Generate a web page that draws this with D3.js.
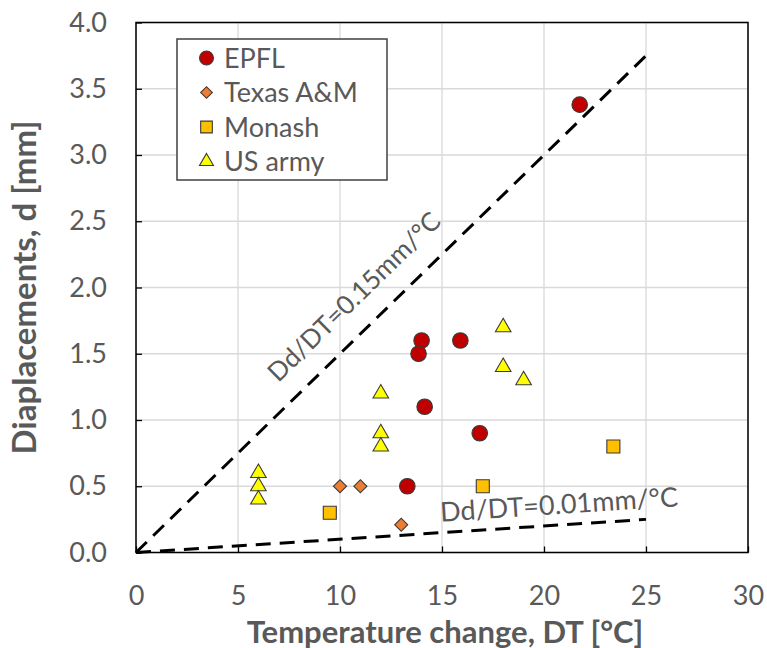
<!DOCTYPE html>
<html>
<head>
<meta charset="utf-8">
<script src="https://cdn.jsdelivr.net/npm/d3@7"></script>
<style>
  body { margin: 0; background: #fff; }
  text { font-family: Lato, "Open Sans", sans-serif; fill: #595959; }
</style>
</head>
<body>
<div id="chart"></div>
<script>
// series data: [DT in °C, displacement in mm]
const epfl = [[21.75, 3.38], [14.0, 1.6], [13.85, 1.5], [15.9, 1.6], [14.15, 1.1], [16.85, 0.9], [13.3, 0.5]];
const texas = [[10, 0.5], [11, 0.5], [13, 0.21]];
const monash = [[9.5, 0.3], [17, 0.5], [23.4, 0.8]];
const usArmy = [[6, 0.6], [6, 0.5], [6, 0.4], [12, 1.2], [12, 0.9], [12, 0.8], [18, 1.7], [18, 1.4], [19, 1.3]];

// trend lines (end points) and their labels
const lineHigh = [[0, 0], [25, 3.75]];
const lineLow = [[0, 0], [25, 0.25]];
const labelHigh = "Dd/DT=0.15mm/°C";
const labelLow = "Dd/DT=0.01mm/°C";

const xTicks = [0, 5, 10, 15, 20, 25, 30];
const yTicks = [0, 0.5, 1, 1.5, 2, 2.5, 3, 3.5, 4];

var margin = { top: 22.5, right: 19, bottom: 95.5, left: 136 },
  width = 767 - margin.left - margin.right,
  height = 648 - margin.top - margin.bottom;

var svg = d3.select("#chart").append("svg")
  .attr("width", 767)
  .attr("height", 648)
  .append("g")
  .attr("transform", "translate(" + margin.left + "," + margin.top + ")");

var x = d3.scaleLinear().domain([0, 30]).range([0, width]);
var y = d3.scaleLinear().domain([0, 4]).range([height, 0]);

// grid
svg.append("g").selectAll("line").data(yTicks).join("line")
  .attr("x1", 0).attr("x2", width)
  .attr("y1", d => y(d)).attr("y2", d => y(d))
  .attr("stroke", "#d9d9d9").attr("stroke-width", 1.3);
svg.append("g").selectAll("line").data(xTicks).join("line")
  .attr("y1", 0).attr("y2", height)
  .attr("x1", d => x(d)).attr("x2", d => x(d))
  .attr("stroke", "#d9d9d9").attr("stroke-width", 1.3);

// axes
var xAxis = d3.axisBottom(x).tickValues(xTicks).tickFormat(d3.format("d"))
  .tickSizeInner(-6).tickSizeOuter(0).tickPadding(33);
var yAxis = d3.axisLeft(y).tickValues(yTicks).tickFormat(d3.format(".1f"))
  .tickSizeInner(-6).tickSizeOuter(0).tickPadding(29);

var gx = svg.append("g").attr("transform", "translate(0," + height + ")").call(xAxis);
var gy = svg.append("g").call(yAxis);
[gx, gy].forEach(g => {
  g.select(".domain").remove();
  g.selectAll(".tick line").attr("stroke", "#000").attr("stroke-width", 1.3);
  g.selectAll("text").style("font-size", "27px").attr("fill", "#595959");
});

// frame
svg.append("rect")
  .attr("width", width).attr("height", height)
  .attr("fill", "none").attr("stroke", "#000").attr("stroke-width", 1.5);

// trend lines
var line = d3.line().x(d => x(d[0])).y(d => y(d[1]));
[lineHigh, lineLow].forEach(pts => {
  svg.append("path")
    .attr("d", line(pts))
    .attr("fill", "none").attr("stroke", "#000")
    .attr("stroke-width", 3).attr("stroke-dasharray", "15,9");
});

function lineLabel(pts, txt, atX, off, fs) {
  var p0 = [x(pts[0][0]), y(pts[0][1])], p1 = [x(pts[1][0]), y(pts[1][1])];
  var ang = Math.atan2(p1[1] - p0[1], p1[0] - p0[0]) * 180 / Math.PI;
  var yv = pts[0][1] + (pts[1][1] - pts[0][1]) * (atX - pts[0][0]) / (pts[1][0] - pts[0][0]);
  svg.append("text")
    .attr("transform", "translate(" + x(atX) + "," + y(yv) + ") rotate(" + ang + ")")
    .attr("y", -off)
    .attr("text-anchor", "middle")
    .style("font-size", fs + "px")
    .text(txt);
}
lineLabel(lineHigh, labelHigh, 11.75, 22, 26);
lineLabel(lineLow, labelLow, 20.8, 11, 27);

// markers
const series = [
  { name: "EPFL", data: epfl, type: d3.symbolCircle, size: 190, fill: "#c00000", rot: 0 },
  { name: "Texas A&M", data: texas, type: d3.symbolSquare, size: 85, fill: "#ed7d31", rot: 45 },
  { name: "Monash", data: monash, type: d3.symbolSquare, size: 170, fill: "#ffc000", rot: 0 },
  { name: "US army", data: usArmy, type: d3.symbolTriangle, size: 105, fill: "#ffff00", rot: 0 }
];

series.forEach(s => {
  svg.append("g").selectAll("path").data(s.data).join("path")
    .attr("d", d3.symbol().type(s.type).size(s.size))
    .attr("transform", d => "translate(" + x(d[0]) + "," + y(d[1]) + ") rotate(" + s.rot + ")")
    .attr("fill", s.fill).attr("stroke", "#3a3a3a").attr("stroke-width", 1.1);
});

// legend
var lg = svg.append("g").attr("transform", "translate(41,16.5)");
lg.append("rect").attr("width", 210).attr("height", 141)
  .attr("fill", "#fff").attr("stroke", "#404040").attr("stroke-width", 1.5);
series.forEach((s, i) => {
  var row = lg.append("g").attr("transform", "translate(0," + (19 + i * 34.5) + ")");
  row.append("path")
    .attr("d", d3.symbol().type(s.type).size(s.size * 0.8))
    .attr("transform", "translate(29.5,0) rotate(" + s.rot + ")")
    .attr("fill", s.fill).attr("stroke", "#3a3a3a").attr("stroke-width", 1.1);
  row.append("text").attr("x", 47).attr("dy", "0.36em")
    .style("font-size", "27px").text(s.name);
});

// axis titles
svg.append("text")
  .attr("x", 309).attr("y", height + 90)
  .attr("text-anchor", "middle")
  .style("font-size", "31px").style("font-weight", "bold")
  .text("Temperature change, DT [°C]");
svg.append("text")
  .attr("transform", "translate(-100," + (height / 2) + ") rotate(-90)")
  .attr("text-anchor", "middle")
  .style("font-size", "33px").style("font-weight", "bold")
  .text("Diaplacements, d [mm]");
</script>
</body>
</html>
